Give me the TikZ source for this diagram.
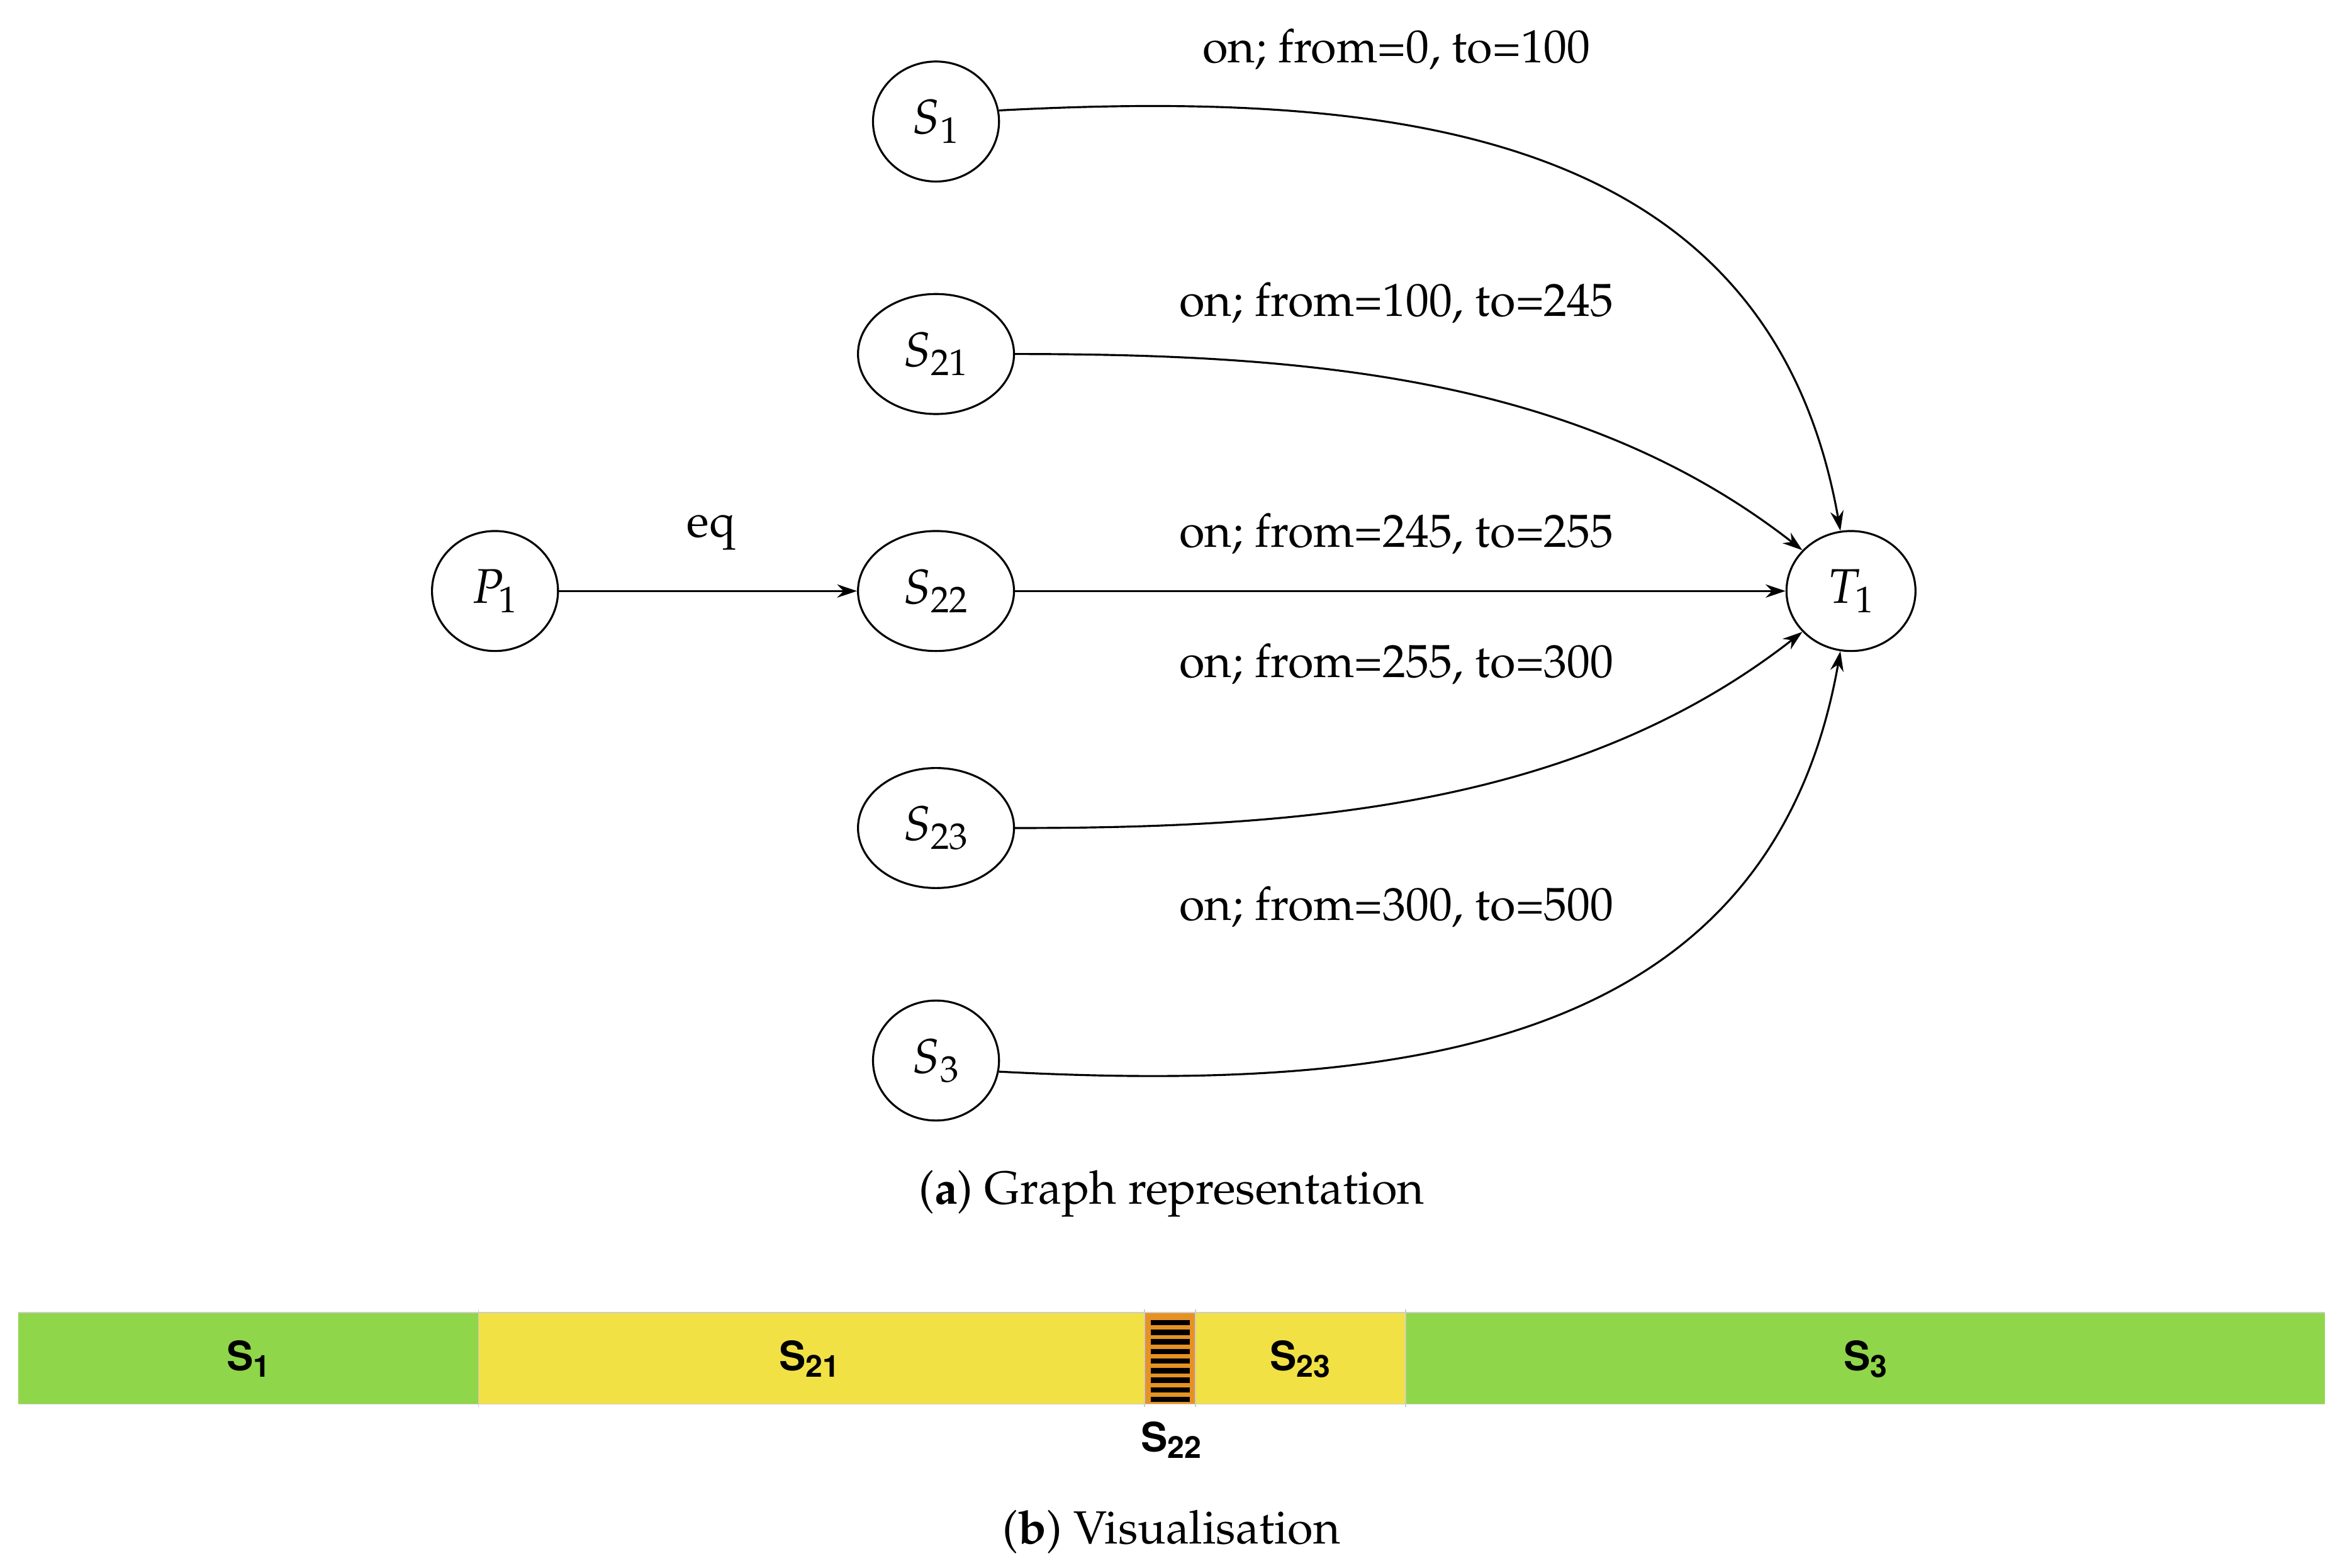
\documentclass[tikz,border=0pt]{standalone}
\usepackage[T1]{fontenc}
\usepackage{mathpazo}
\usepackage[scaled]{helvet}
\usetikzlibrary{arrows.meta,shapes.geometric}
\definecolor{barGreen}{HTML}{8FD64A}
\definecolor{barYellow}{HTML}{F1E145}
\definecolor{barOrange}{HTML}{E69223}
\begin{document}
\begin{tikzpicture}[x=0.02384cm,y=-0.02384cm,
  st/.style={draw,ellipse,line width=0.9pt,minimum width=#1*0.02384cm,minimum height=80*0.02384cm,inner sep=0pt,font=\fontsize{22}{26}\selectfont},
  st/.default=84,
  lbl/.style={font=\fontsize{21}{26}\selectfont},
  edge/.style={line width=0.9pt,-{Stealth[length=9pt,width=6pt]}},
  seg/.style={draw=black!20,line width=0.5pt},
  bl/.style={font=\sffamily\bfseries\fontsize{19}{22}\selectfont}]
\useasboundingbox (0,0) rectangle (1560,1045);
\node[st] (S1) at (624,81) {$S_1$};
\node[st=104] (S21) at (624,236) {$S_{21}$};
\node[st] (P1) at (330,394) {$P_1$};
\node[st=104] (S22) at (624,394) {$S_{22}$};
\node[st=86] (T1) at (1234,394) {$T_1$};
\node[st=104] (S23) at (624,552) {$S_{23}$};
\node[st] (S3) at (624,707) {$S_3$};
\node[lbl] (L1) at (931,33) {on; from=0, to=100};
\node[lbl] (L2) at (931,202) {on; from=100, to=245};
\node[lbl] (L3) at (931,356) {on; from=245, to=255};
\node[lbl] (L4) at (931,443) {on; from=255, to=300};
\node[lbl] (L5) at (931,605) {on; from=300, to=500};
\node[lbl] (Leq) at (474,355) {eq};
\draw[edge] (S1.10) to[out=3,in=100,looseness=1.1] (T1.100);
\draw[edge] (S21.east) to[out=0,in=142,looseness=0.9] (T1.140);
\draw[edge] (P1) -- (S22);
\draw[edge] (S22) -- (T1);
\draw[edge] (S23.east) to[out=0,in=218,looseness=0.9] (T1.220);
\draw[edge] (S3.-10) to[out=-3,in=260,looseness=1.1] (T1.260);
\node[lbl] (capA) at (781,796) {(\textbf{a}) Graph representation};
\node[lbl] (capB) at (781,1021) {(\textbf{b}) Visualisation};
% bar
\fill[barGreen] (12,875) rectangle (319,936);
\fill[barYellow] (319,875) rectangle (763,936);
\fill[barOrange] (763,875) rectangle (797,936);
\fill[barYellow] (797,875) rectangle (937,936);
\fill[barGreen] (937,875) rectangle (1550,936);
\foreach \i in {0,...,8} \fill[black] (767,880+6.4*\i) rectangle (793,883.5+6.4*\i);
\draw[seg] (12,875) -- (1550,875) (12,936) -- (1550,936);
\foreach \x in {319,763,797,937} \draw[seg] (\x,873) -- (\x,938);
\node[bl] (b1) at (166,906) {S\textsubscript{1}};
\node[bl] (b21) at (540,906) {S\textsubscript{21}};
\node[bl] (b23) at (867,906) {S\textsubscript{23}};
\node[bl] (b3) at (1244,906) {S\textsubscript{3}};
\node[bl] (b22) at (781,960) {S\textsubscript{22}};
\end{tikzpicture}
\end{document}
